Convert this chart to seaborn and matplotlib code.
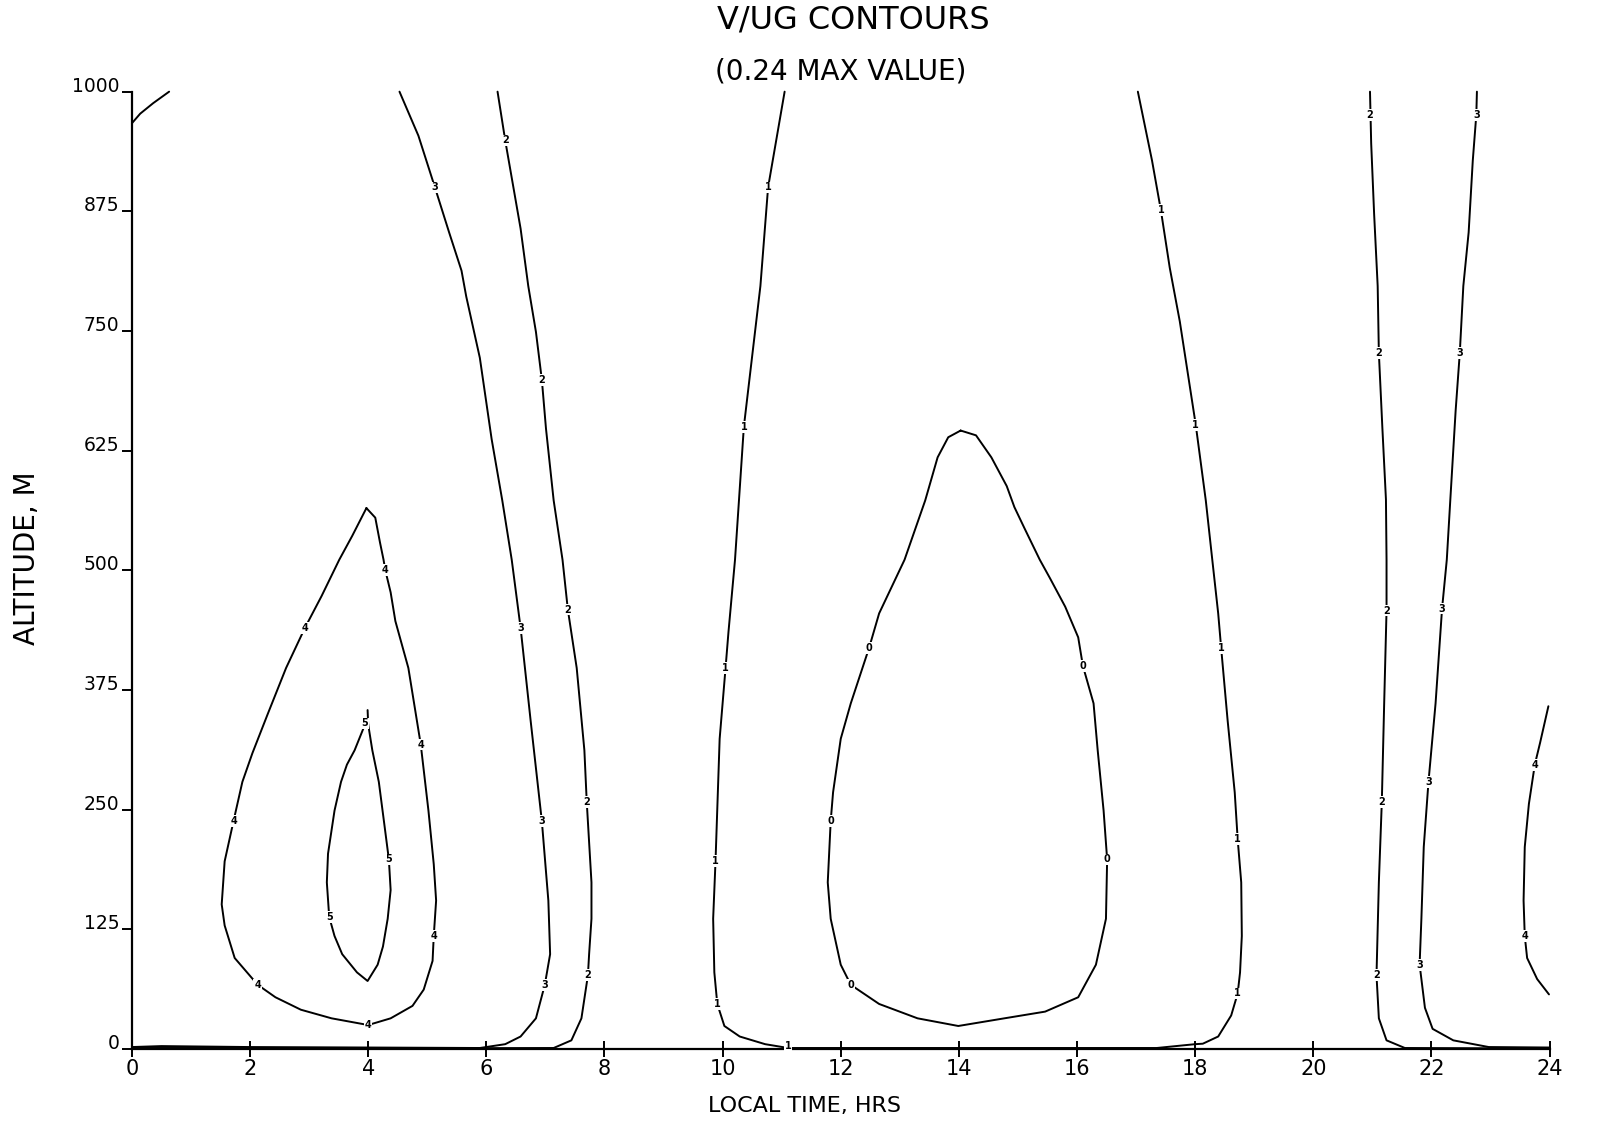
import matplotlib
matplotlib.use("Agg")
import matplotlib.pyplot as plt
import numpy as np
import pandas as pd
import seaborn as sns

# ---- contour traces: local time (hrs) vs altitude (m) ----
c5_time = [3.99, 4.00, 4.07, 4.18, 4.26, 4.35, 4.38, 4.33, 4.25, 4.16, 3.99, 3.81, 3.56, 3.43,
           3.34, 3.30, 3.32, 3.43, 3.54, 3.64, 3.77, 3.92, 4.00]
c5_alt = [354, 339, 312, 279, 241, 198, 166, 136, 107, 88, 71, 80, 99, 118,
          138, 174, 204, 249, 279, 297, 312, 335, 339]

c4a_time = [3.97, 4.12, 4.20, 4.26, 4.29, 4.38, 4.46, 4.68, 4.89, 5.02, 5.11, 5.15, 5.11, 5.09,
            4.94, 4.75, 4.38, 4.00, 3.38, 2.86, 2.43, 2.13, 1.74, 1.57, 1.52, 1.57, 1.72, 1.87,
            2.04, 2.30, 2.61, 2.93, 3.21, 3.51, 3.73, 3.97]
c4a_alt = [565, 555, 529, 511, 500, 477, 447, 398, 318, 249, 193, 155, 118, 92,
           62, 45, 32, 25, 32, 41, 54, 67, 95, 129, 151, 196, 238, 279,
           309, 350, 398, 440, 473, 511, 536, 565]

c3a_time = [4.53, 4.85, 5.13, 5.37, 5.58, 5.66, 5.89, 6.09, 6.27, 6.43, 6.58, 6.75, 6.94, 7.05,
            7.08, 6.99, 6.84, 6.58, 6.32, 5.89, 4.0, 2.0, 0.5, 0.0]
c3a_alt = [1000, 954, 900, 853, 813, 786, 722, 637, 573, 511, 440, 343, 238, 155,
           99, 67, 32, 13, 5, 1, 1.5, 2, 3, 2]

c2a_time = [6.19, 6.32, 6.58, 6.71, 6.84, 6.94, 7.01, 7.14, 7.29, 7.38, 7.53, 7.66, 7.70, 7.78,
            7.78, 7.74, 7.72, 7.61, 7.44, 7.14, 5.5, 3.0, 0.0]
c2a_alt = [1000, 949, 857, 797, 749, 699, 648, 573, 511, 459, 398, 312, 258, 174,
           136, 99, 77, 32, 9, 1, 0.8, 1, 1]

c1_time = [11.05, 10.77, 10.64, 10.36, 10.21, 10.10, 10.05, 9.95, 9.88, 9.84, 9.86, 9.91, 10.03,
           10.29, 10.72, 11.11, 14.0, 17.35, 18.0, 18.13, 18.39, 18.61, 18.72, 18.76, 18.79,
           18.78, 18.72, 18.67, 18.55, 18.44, 18.39, 18.29, 18.18, 18.01, 17.88, 17.74, 17.57,
           17.42, 17.27, 17.03]
c1_alt = [1000, 900, 797, 650, 511, 436, 398, 324, 196, 136, 80, 47, 24,
          13, 5, 1, 1, 1, 5, 5.5, 13, 35, 58, 80, 118,
          174, 219, 268, 343, 419, 455, 511, 573, 652, 704, 760, 816,
          876, 928, 1000]

c0_time = [14.03, 14.29, 14.55, 14.81, 14.94, 15.11, 15.37, 15.54, 15.80, 16.02, 16.10, 16.28,
           16.35, 16.45, 16.51, 16.49, 16.32, 16.02, 15.46, 14.77, 13.99, 13.30, 12.65, 12.17,
           12.00, 11.83, 11.78, 11.83, 11.87, 12.00, 12.17, 12.48, 12.65, 13.08, 13.43, 13.64,
           13.82, 14.03]
c0_alt = [646, 641, 618, 588, 566, 544, 511, 492, 462, 430, 400, 361,
          312, 249, 198, 136, 88, 54, 39, 32, 24, 32, 47, 67,
          88, 136, 174, 238, 268, 324, 361, 419, 455, 511, 573, 618,
          639, 646]

c2b_time = [20.96, 20.98, 21.03, 21.09, 21.11, 21.17, 21.23, 21.24, 21.24, 21.20, 21.16, 21.11,
            21.07, 21.11, 21.24, 21.55, 24.0]
c2b_alt = [1000, 946, 872, 797, 727, 648, 574, 511, 458, 361, 258, 174,
           77, 32, 9, 1, 0.5]

c3b_time = [22.77, 22.76, 22.70, 22.63, 22.54, 22.48, 22.41, 22.32, 22.26, 22.18, 22.07, 21.95,
            21.87, 21.83, 21.80, 21.89, 22.02, 22.37, 22.97, 24.0]
c3b_alt = [1000, 976, 928, 853, 797, 727, 667, 574, 511, 460, 361, 279,
           211, 136, 88, 43, 21, 9, 2, 1.5]

c4b_time = [23.98, 23.84, 23.75, 23.65, 23.58, 23.56, 23.58, 23.62, 23.79, 23.99]
c4b_alt = [358, 320, 297, 256, 211, 155, 118, 95, 73, 57]

ctl_time = [0.0, 0.14, 0.36, 0.63]
ctl_alt = [967, 977, 988, 1000]

# ---- in-line contour labels ----
label_text = (["5"] * 3 + ["4"] * 9 + ["3"] * 9 + ["2"] * 10 + ["1"] * 11 + ["0"] * 5)
label_time = [3.94, 4.35, 3.34,
              4.29, 2.93, 4.89, 1.72, 5.11, 2.13, 4.00, 23.75, 23.58,
              5.13, 6.58, 6.94, 6.99, 22.76, 22.48, 22.18, 21.95, 21.80,
              6.32, 6.94, 7.38, 7.70, 7.72, 20.96, 21.11, 21.24, 21.16, 21.07,
              10.77, 10.36, 10.05, 9.88, 9.91, 11.11, 17.42, 18.01, 18.44, 18.72, 18.72,
              12.48, 11.83, 12.17, 16.10, 16.51]
label_alt = [340, 198, 138,
             500, 440, 318, 238, 118, 67, 25, 297, 118,
             900, 440, 238, 67, 976, 727, 460, 279, 88,
             949, 699, 459, 258, 77, 976, 727, 458, 258, 77,
             900, 650, 398, 196, 47, 3, 876, 652, 419, 219, 58,
             419, 238, 67, 400, 198]

x_ticks = list(range(0, 25, 2))
y_ticks = [0, 125, 250, 375, 500, 625, 750, 875, 1000]

segments = {
    "c5": (c5_time, c5_alt), "c4a": (c4a_time, c4a_alt), "c3a": (c3a_time, c3a_alt),
    "c2a": (c2a_time, c2a_alt), "c1": (c1_time, c1_alt), "c0": (c0_time, c0_alt),
    "c2b": (c2b_time, c2b_alt), "c3b": (c3b_time, c3b_alt), "c4b": (c4b_time, c4b_alt),
    "ctl": (ctl_time, ctl_alt),
}
frames = []
for name, (t, a) in segments.items():
    frames.append(pd.DataFrame({"seg": name, "order": np.arange(len(t)),
                                "time": t, "alt": a}))
df = pd.concat(frames, ignore_index=True)

sns.set_style("ticks")
plt.rcParams["font.family"] = ["DejaVu Sans"]
plt.rcParams.update({"text.color": "black", "axes.labelcolor": "black",
                     "xtick.color": "black", "ytick.color": "black",
                     "axes.edgecolor": "black"})

fig = plt.figure(figsize=(15.97, 11.22), dpi=100)
ax = fig.add_axes([0.0826, 0.0651, 0.8877, 0.8532])

sns.lineplot(data=df, x="time", y="alt", units="seg", estimator=None, sort=False,
             color="black", linewidth=1.4, ax=ax, legend=False)
for ln in ax.lines:
    ln.set_clip_on(False)

for s, t, a in zip(label_text, label_time, label_alt):
    ax.text(t, a, s, ha="center", va="center", fontsize=7, fontweight="bold",
            color="black", zorder=5,
            bbox=dict(facecolor="white", edgecolor="none", pad=0.6))

ax.set_xlim(0, 24)
ax.set_ylim(0, 1000)
ax.set_xticks(x_ticks)
ax.set_xticklabels([str(v) for v in x_ticks], fontsize=15)
ax.set_yticks(y_ticks)
ax.set_yticklabels([str(v) for v in y_ticks], fontsize=13.5)
plt.setp(ax.get_yticklabels(), va="baseline")
ax.tick_params(axis="x", direction="inout", length=12, width=1.4, pad=1)
ax.tick_params(axis="y", direction="out", length=7, width=1.4, pad=2)
ax.set_xlabel("")
ax.set_ylabel("")
sns.despine(ax=ax, top=True, right=True)
for side in ("left", "bottom"):
    ax.spines[side].set_linewidth(1.6)

fig.text(0.5345, 0.9818, "V/UG CONTOURS", ha="center", va="center", fontsize=23)
fig.text(0.5262, 0.9365, "(0.24 MAX VALUE)", ha="center", va="center", fontsize=20)
fig.text(0.5035, 0.0142, "LOCAL TIME, HRS", ha="center", va="center", fontsize=16)
fig.text(0.0172, 0.5027, "ALTITUDE, M", ha="center", va="center", fontsize=20,
         rotation=90)

fig.savefig("out.png", dpi=100, facecolor="white")
